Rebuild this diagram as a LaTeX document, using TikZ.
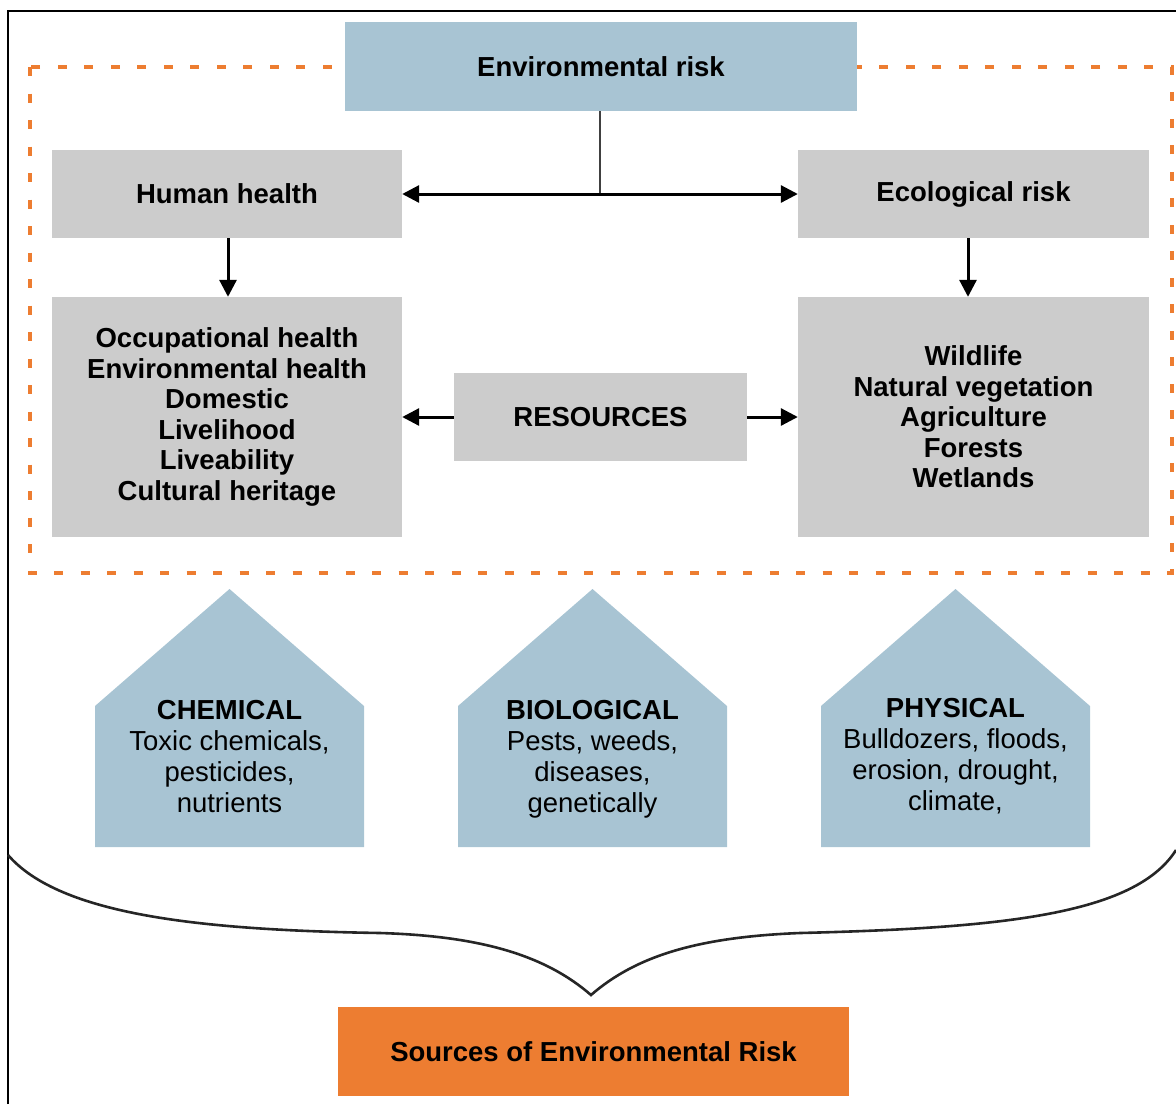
\documentclass[tikz,border=0pt]{standalone}
\usepackage{fontspec}
\setmainfont{Liberation Sans}
\usetikzlibrary{arrows.meta}
\definecolor{riskblue}{HTML}{A8C4D3}
\definecolor{boxgray}{HTML}{CCCCCC}
\definecolor{riskorange}{HTML}{ED7D31}

\begin{document}
\begin{tikzpicture}[x=1pt,y=-1pt,
  panel/.style={draw=none, inner sep=0pt, anchor=center, align=center,
    font=\bfseries\fontsize{27.5}{30.5}\selectfont},
  graybox/.style={panel, fill=boxgray},
  bluebox/.style={panel, fill=riskblue},
  house/.style={fill=riskblue},
  housetext/.style={inner sep=0pt, align=center, font=\fontsize{27.5}{31}\selectfont},
  link/.style={line width=3pt, -{Triangle[length=17pt,width=17pt]}},
  bilink/.style={line width=3pt, {Triangle[length=17pt,width=17pt]}-{Triangle[length=17pt,width=17pt]}},
  stem/.style={line width=2.8pt, draw=black!75},
  zone/.style={draw=riskorange, line width=4.5pt, dash pattern=on 9pt off 17.5pt},
  frameline/.style={line width=2.4pt},
  bracket/.style={line width=2.6pt, draw=black!85}
]
\useasboundingbox (0,0) rectangle (1176,1104);

% outer frame (left and top edges)
\draw[frameline] (8,1104) -- (8,11) -- (1176,11);

% orange dashed zone around the risk categories
\draw[zone] (30,67) rectangle (1172,573);

% top level and categories
\node[bluebox, minimum width=512pt, minimum height=89pt] (env) at (601,66.5) {Environmental risk};
\node[graybox, minimum width=350pt, minimum height=88pt] (hh) at (227,194) {Human health};
\node[graybox, minimum width=351pt, minimum height=88pt] (eco) at (973.5,194) {Ecological risk};
\node[graybox, minimum width=350pt, minimum height=240pt] (hlist) at (227,417)
  {Occupational health\\Environmental health\\Domestic\\Livelihood\\Liveability\\Cultural heritage};
\node[graybox, minimum width=351pt, minimum height=240pt] (elist) at (973.5,417)
  {Wildlife\\Natural vegetation\\Agriculture\\Forests\\Wetlands};
\node[graybox, minimum width=293pt, minimum height=88pt] (res) at (600.5,417) {RESOURCES};

% connectors
\coordinate (split) at (600,194);
\draw[stem] (env.south -| split) -- (split);
\draw[bilink] (hh.east) -- (eco.west);
\draw[link] (hh.south -| 228,0) -- (hlist.north -| 228,0);
\draw[link] (eco.south -| 968,0) -- (elist.north -| 968,0);
\draw[link] (res.west) -- (hlist.east);
\draw[link] (res.east) -- (elist.west);

% source categories
\fill[house] (95,847) -- (95,706) -- (229.5,589) -- (364,706) -- (364,847) -- cycle;
\fill[house] (458,847) -- (458,706) -- (592.5,589) -- (727,706) -- (727,847) -- cycle;
\fill[house] (821,847) -- (821,706) -- (955.5,589) -- (1090,706) -- (1090,847) -- cycle;

\node[housetext] (chem) at (229.5,757) {\textbf{CHEMICAL}\\Toxic chemicals,\\pesticides,\\nutrients};
\node[housetext] (bio) at (592.5,759) {\textbf{BIOLOGICAL}\\Pests, weeds,\\diseases,\\genetically};
\node[housetext] (phys) at (955.5,756) {\textbf{PHYSICAL}\\Bulldozers, floods,\\erosion, drought,\\climate,};

% brace gathering the sources
\coordinate (tip) at (591,995);
\draw[bracket] (8,855) .. controls (60,915) and (200,930) .. (380,933)
  .. controls (480,936) and (545,955) .. (tip)
  .. controls (637,955) and (700,937) .. (800,933)
  .. controls (1000,928) and (1135,915) .. (1176,850);

\node[panel, fill=riskorange, minimum width=511pt, minimum height=89pt] (src) at (593.5,1051.5)
  {Sources of Environmental Risk};
\end{tikzpicture}
\end{document}
